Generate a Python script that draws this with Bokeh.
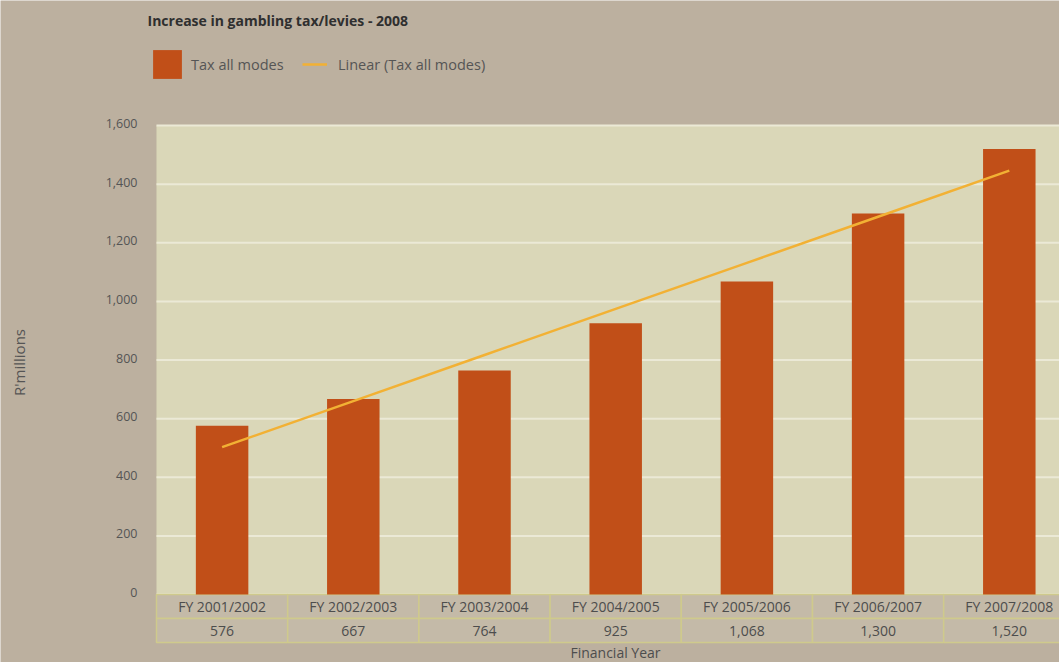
import numpy as np
from bokeh.plotting import figure
from bokeh.models import Range1d, Label, Legend, LegendItem
from bokeh.core.properties import value
from bokeh.embed import file_html
from bokeh.resources import INLINE

# ---- data ----
categories = ["FY 2001/2002", "FY 2002/2003", "FY 2003/2004", "FY 2004/2005",
              "FY 2005/2006", "FY 2006/2007", "FY 2007/2008"]
tax_values = [576, 667, 764, 925, 1068, 1300, 1520]
y_ticks = [0, 200, 400, 600, 800, 1000, 1200, 1400, 1600]
y_tick_labels = [f"{t:,}" for t in y_ticks]

# ---- styles ----
BG = "#bcb09f"
PLOT_BG = "#dad7b8"
GRID = "#ebe9d6"
BAR = "#c14f18"
TREND = "#f2b134"
CELL = "#c4baa8"
BORDER = "#cfca8c"
TXT = "#4d4d4d"
FONT = "Open Sans"

W, H = 1059, 662
plot_left_px = 156      # left edge of the plot area
zero_px = 594           # pixel row of value 0
top_px = 125            # pixel row of value 1600
cat_px = 131.2          # width of one category
px_per_unit = (zero_px - top_px) / 1600.0

x_range = Range1d(-plot_left_px / cat_px, (W - plot_left_px) / cat_px)
y_range = Range1d(-(H - zero_px) / px_per_unit, zero_px / px_per_unit)

p = figure(width=W, height=H, output_backend="svg", toolbar_location=None,
           x_axis_location=None, y_axis_location=None, title=None,
           x_range=x_range, y_range=y_range,
           min_border_left=0, min_border_top=0, min_border_bottom=0,
           min_border_right=0, background_fill_color=BG,
           border_fill_color=BG, outline_line_color=None)
p.grid.visible = False

n = len(categories)
idx = np.arange(n)

# plot area
p.quad(left=0, right=n, bottom=0, top=max(y_ticks), fill_color=PLOT_BG, line_color=None)
# horizontal grid lines
p.segment(x0=[0] * len(y_ticks), x1=[n] * len(y_ticks), y0=y_ticks, y1=y_ticks,
          line_color=GRID, line_width=2)
# y tick labels
p.text(x=[0] * len(y_ticks), y=y_ticks, text=y_tick_labels, x_offset=-19, y_offset=-2,
       text_align="right", text_baseline="middle", text_font=value(FONT),
       text_font_size="12.5px", text_color="#555555")

# data table under the axis
row_h = 82
p.quad(left=idx, right=idx + 1, top=[0] * n, bottom=[-row_h] * n,
       fill_color=CELL, line_color=BORDER, line_width=1.5)
p.quad(left=idx, right=idx + 1, top=[-row_h] * n, bottom=[-2 * row_h] * n,
       fill_color=CELL, line_color=BORDER, line_width=1.5)

bars = p.vbar(x=idx + 0.5, top=tax_values, bottom=0, width=0.4,
              fill_color=BAR, line_color=None)

fit = np.polyfit(idx, tax_values, 1)
trend = p.line(x=idx + 0.5, y=np.polyval(fit, idx), line_color=TREND, line_width=2.5)

p.text(x=idx + 0.5, y=[-row_h / 2] * n, text=categories, text_align="center",
       text_baseline="middle", text_font=value(FONT), text_font_size="14px",
       text_color=TXT)
p.text(x=idx + 0.5, y=[-1.5 * row_h] * n, text=[f"{v:,}" for v in tax_values],
       text_align="center", text_baseline="middle", text_font=value(FONT),
       text_font_size="14px", text_color=TXT)

# labels (screen units measured from the bottom-left corner)
p.add_layout(Label(x=147, y=H - 20, x_units="screen", y_units="screen",
                   text="Increase in gambling tax/levies - 2008",
                   text_font=FONT, text_font_size="14px", text_font_style="bold",
                   text_color="#2f2f2f", text_baseline="middle"))
p.add_layout(Label(x=18, y=H - 362, x_units="screen", y_units="screen",
                   text="R'millions", angle=np.pi / 2, text_align="center",
                   text_baseline="middle", text_font=FONT,
                   text_font_size="15px", text_color="#555555"))
p.add_layout(Label(x=615, y=H - 652, x_units="screen", y_units="screen",
                   text="Financial Year", text_align="center",
                   text_baseline="middle", text_font=FONT,
                   text_font_size="14px", text_color=TXT))

# legends (location = bottom-left corner of the legend box)
legend1 = Legend(items=[LegendItem(label="Tax all modes", renderers=[bars])],
                 location=(149, H - 82), orientation="horizontal",
                 glyph_width=36, glyph_height=36, label_standoff=6,
                 padding=0, margin=0, background_fill_alpha=0,
                 border_line_alpha=0, label_text_font=FONT,
                 label_text_font_size="14.5px", label_text_color="#555555")
legend2 = Legend(items=[LegendItem(label="Linear (Tax all modes)", renderers=[trend])],
                 location=(302, H - 82), orientation="horizontal",
                 glyph_width=25, glyph_height=36, label_standoff=11,
                 padding=0, margin=0, background_fill_alpha=0,
                 border_line_alpha=0, label_text_font=FONT,
                 label_text_font_size="14.5px", label_text_color="#555555")
p.add_layout(legend1, "center")
p.add_layout(legend2, "center")

open("out.html", "w").write(file_html(p, INLINE))
